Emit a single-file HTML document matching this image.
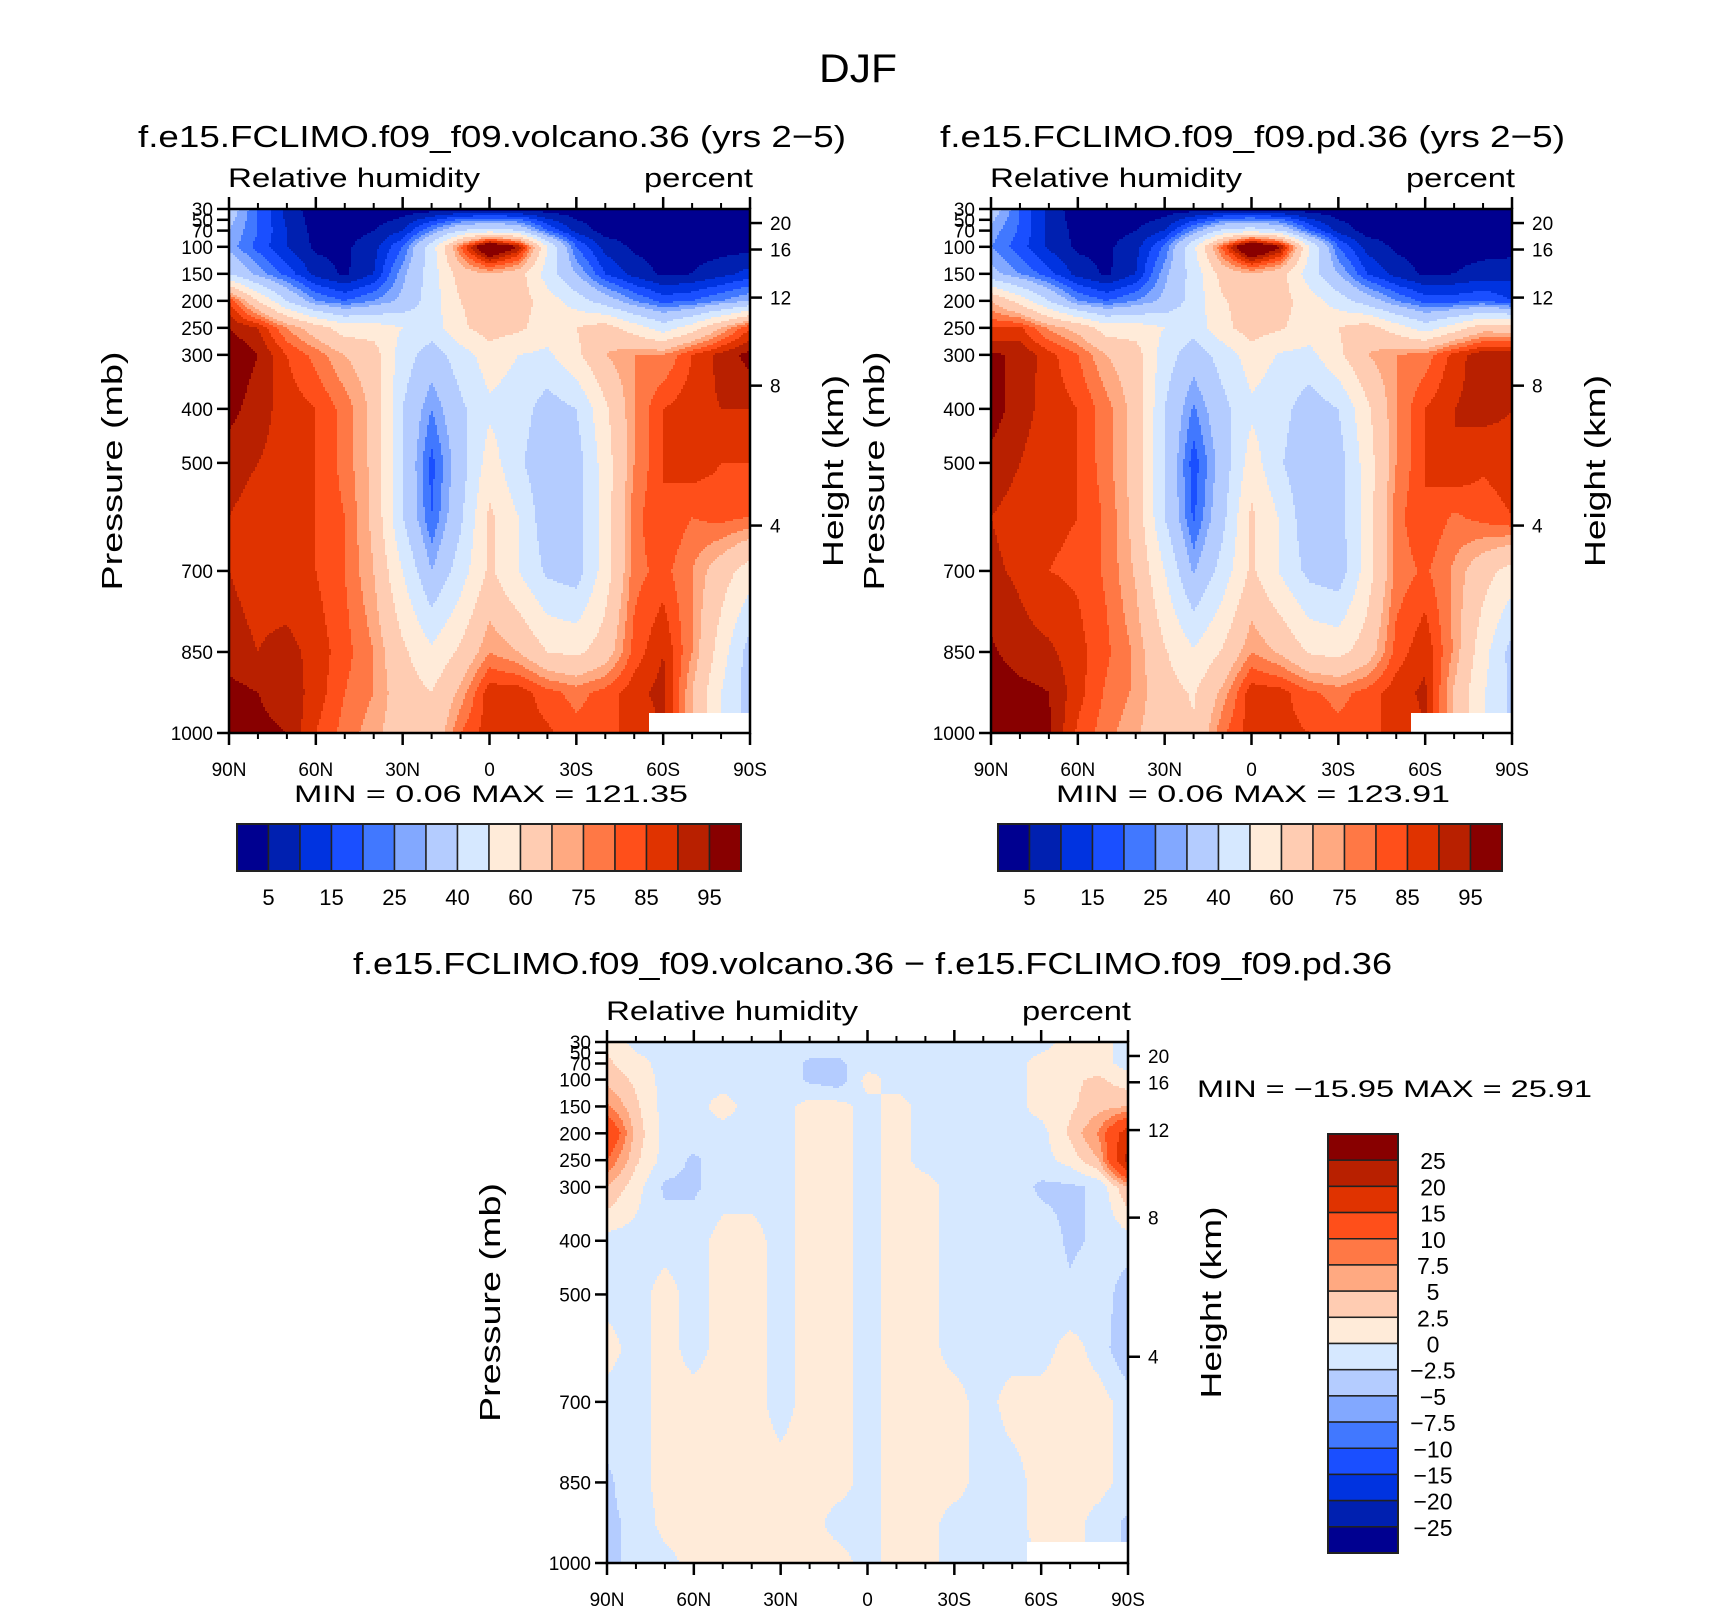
<!DOCTYPE html>
<html><head><meta charset="utf-8">
<style>
html,body{margin:0;padding:0;background:#fff;}
svg{display:block;font-family:"Liberation Sans",sans-serif;}
text{fill:#000;}
</style></head>
<body>
<svg id="fig" width="1710" height="1606" viewBox="0 0 1710 1606" xmlns="http://www.w3.org/2000/svg">
<rect x="0" y="0" width="1710" height="1606" fill="#fff"/>
<text x="858" y="82" font-size="40" text-anchor="middle" textLength="78" lengthAdjust="spacingAndGlyphs">DJF</text>
<text x="138" y="147" font-size="31" textLength="708" lengthAdjust="spacingAndGlyphs">f.e15.FCLIMO.f09_f09.volcano.36 (yrs 2−5)</text>
<text x="940" y="147" font-size="31" textLength="625" lengthAdjust="spacingAndGlyphs">f.e15.FCLIMO.f09_f09.pd.36 (yrs 2−5)</text>
<text x="353" y="974" font-size="31" textLength="1039" lengthAdjust="spacingAndGlyphs">f.e15.FCLIMO.f09_f09.volcano.36 − f.e15.FCLIMO.f09_f09.pd.36</text>
<g id="panels"></g>
</svg>
<script>
// ---- data ----
const lats = [90,80,70,60,50,40,30,20,10,0,-10,-20,-30,-40,-50,-60,-70,-80,-90];
const latTickLabels = ["90N","60N","30N","0","30S","60S","90S"];
const latTickValues = [90,60,30,0,-30,-60,-90];
const pressures = [30,70,100,150,200,250,300,400,500,600,700,850,925,1000];
const pressureTickValues = [30,50,70,100,150,200,250,300,400,500,700,850,1000];
const heightTickLabels = ["20","16","12","8","4"];
const heightTickPressures = [56,105,194,357,616];
const rhLevels = [5,10,15,20,25,30,40,50,60,70,75,80,85,90,95];
const rhTickLabels = ["5","15","25","40","60","75","85","95"];
const diffLevels = [-25,-20,-15,-10,-7.5,-5,-2.5,0,2.5,5,7.5,10,15,20,25];
const diffTickLabels = ["25","20","15","10","7.5","5","2.5","0","−2.5","−5","−7.5","−10","−15","−20","−25"];
const palette = ["#000090","#0020b0","#0033e0","#1a4fff","#4178ff","#82a8ff","#b4ccff","#d6e8ff","#ffebd9","#ffccb2","#ffa981","#ff7845","#ff4f1a","#e03300","#b82000","#880000"];

const volcanoRH = [
[35,20,8,2,1,1,2,2,2,2,2,2,2,2,2,2,2,2,2],
[30,20,10,3,3,5,10,25,40,45,40,20,8,3,3,3,3,3,3],
[28,18,10,4,4,8,20,45,80,110,95,50,20,8,4,3,3,3,3],
[40,28,18,8,4,10,28,45,65,70,65,45,30,15,8,4,5,8,12],
[85,60,40,25,20,25,32,45,60,65,65,55,45,35,25,18,20,25,30],
[95,90,75,65,55,55,50,45,58,65,62,55,60,65,55,45,55,70,85],
[100,95,85,78,70,65,45,35,45,55,50,48,58,70,75,75,85,92,97],
[97,92,88,85,78,68,40,25,38,48,45,35,40,58,75,85,88,90,90],
[92,90,88,85,78,68,40,18,35,55,42,32,35,55,75,85,88,85,85],
[90,88,87,85,80,68,40,20,38,62,50,33,35,55,78,85,80,82,80],
[90,88,86,85,80,70,50,30,45,62,50,38,35,55,78,82,75,65,55],
[92,90,92,88,82,75,62,52,62,75,70,60,58,65,82,90,75,55,35],
[97,95,93,88,80,75,65,60,72,88,88,82,78,82,88,92,70,50,35],
[97,96,95,85,78,72,65,62,80,88,88,86,82,84,86,null,null,null,null]
];
const pdRH = [
[35,20,8,2,1,1,2,2,2,2,2,2,2,2,2,2,2,2,2],
[28,19,9,3,3,5,10,26,42,46,40,20,8,3,3,3,3,3,3],
[25,17,9,4,4,8,21,48,82,112,96,50,20,8,4,3,3,3,3],
[33,25,17,8,4,10,28,44,64,70,64,45,30,15,8,4,5,7,8],
[70,56,40,25,20,25,32,44,59,65,64,55,45,35,25,18,18,20,15],
[85,86,74,67,55,55,50,44,57,65,61,55,60,65,55,45,55,66,65],
[96,94,87,80,70,65,45,34,44,55,49,47,58,70,75,77,87,94,94],
[98,92,88,85,77,67,40,24,37,48,44,34,40,58,75,85,90,92,90],
[93,90,87,85,77,67,40,17,34,55,41,31,35,55,75,85,90,86,88],
[90,88,86,85,79,67,40,19,37,62,49,32,35,55,78,85,79,82,85],
[91,89,85,84,79,69,50,29,44,62,49,37,34,55,77,81,74,64,56],
[96,92,91,87,81,74,61,51,61,75,69,59,57,65,82,89,74,54,36],
[99,97,95,87,79,74,64,59,72,88,87,81,78,82,88,91,69,51,38],
[99,98,96,84,77,71,64,61,79,88,87,85,82,84,86,null,null,null,null]
];
const diffRH = [
[2,-1,-1,-1,-1,-1,-1,-1,-1,-1,-1,-1,-1,-1,-1,-1,1,1,-1],
[3,1,-1,-1,-1,-1,-1,-3,-3,-1,-1,-1,-1,-1,-1,1,1,1,-1],
[4,2,-1,-1,-1,-1,-1,-3,-4,1,-1,-1,-1,-1,-1,1,2,3,1],
[8,3,-1,-1,1,-1,-1,1,1,-1,1,-1,-1,-1,-1,1,2,4,5],
[15,4,-1,-1,-1,-1,-1,1,1,-1,1,-1,-1,-1,-1,-1,3,8,18],
[10,3,-1,-3,-1,-1,-1,1,1,-1,1,-1,-1,-1,-1,-1,1,5,22],
[5,1,-3,-3,-1,-1,-1,1,1,-1,1,1,-1,-1,-1,-3,-3,-2,5],
[-1,-1,-1,-1,1,1,-1,1,1,-1,1,1,-1,-1,-1,-1,-3,-2,-1],
[-1,-1,1,-1,1,1,-1,1,1,-1,1,1,-1,-1,-1,-1,-2,-1,-4],
[1,-1,1,-1,1,1,-1,1,1,-1,1,1,-1,-1,-1,-1,1,-1,-5],
[-1,-1,1,1,1,1,-1,1,1,-1,1,1,1,-1,1,1,1,1,-1],
[-3,-1,1,1,1,1,1,1,1,-1,1,1,1,-1,-1,1,1,1,-1],
[-3,-2,1,1,1,1,1,1,-1,-1,1,1,-1,-1,-1,1,1,-1,-3],
[-3,-2,-1,1,1,1,1,1,1,-1,1,1,-1,-1,-1,null,null,null,null]
];

// ---- helpers ----
const NS = "http://www.w3.org/2000/svg";
const root = document.getElementById("panels");
function mk(tag, attrs, parent){ const e=document.createElementNS(NS,tag); for(const k in attrs) e.setAttribute(k,attrs[k]); (parent||root).appendChild(e); return e; }
function colorFor(v, levels){ let i=0; while(i<levels.length && v>=levels[i]) i++; return palette[i]; }

function sample(field, lf, p){
  let r=0; while(r<pressures.length-2 && p>pressures[r+1]) r++;
  let t=(p-pressures[r])/(pressures[r+1]-pressures[r]); t=Math.max(0,Math.min(1,t));
  lf=Math.max(0,Math.min(18,lf));
  let c=Math.min(Math.floor(lf),17); let s=lf-c;
  const nr = t<0.5?r:r+1, nc = s<0.5?c:c+1;
  if(field[nr][nc]===null) return null;
  const pts=[[r,c,(1-t)*(1-s)],[r,c+1,(1-t)*s],[r+1,c,t*(1-s)],[r+1,c+1,t*s]];
  let sum=0,w=0; for(const [a,b,ww] of pts){ const v=field[a][b]; if(v!==null){sum+=v*ww;w+=ww;} }
  return w>0?sum/w:null;
}

function panel(name, field, levels, x0, y0, w, h, minmax){
  const g = mk("g",{});
  
  
  const xOf = lat => x0 + (90-lat)/180*w;
  const yOf = p => y0 + (p-30)/970*h;
  const pOf = y => 30 + (y-y0)/h*970;
  const fg = mk("g",{},g);
  
  
  const step=2;
  for(let y=y0; y<y0+h; y+=step){
    const p = pOf(Math.min(y+step/2, y0+h));
    let runStart=x0, runCol=null;
    for(let x=x0; ; x+=step){
      const end = x>=x0+w;
      let col;
      if(end) col="__end";
      else { const v=sample(field, (x+step/2-x0)/w*18, p); col = v===null?"#ffffff":colorFor(v,levels); }
      if(col!==runCol){
        if(runCol!==null){
          const xe = end ? x0+w : x;
          const r=mk("rect",{x:runStart,y:y,width:xe-runStart+(end?0:0.6),height:Math.min(step+0.6,y0+h-y),fill:runCol},fg);
          
          
        }
        runStart=x; runCol=col;
      }
      if(end) break;
    }
  }
  const frame=mk("rect",{x:x0,y:y0,width:w,height:h,fill:"none",stroke:"#000","stroke-width":2.5},g);
  
  
  for(let lat=90; lat>=-90; lat-=10){
    const major = lat%30===0; const L = major?12:6; const x=xOf(lat);
    mk("line",{x1:x,y1:y0+h,x2:x,y2:y0+h+L,stroke:"#000","stroke-width":major?2.5:2},g);
    mk("line",{x1:x,y1:y0,x2:x,y2:y0-L,stroke:"#000","stroke-width":major?2.5:2},g);
  }
  latTickValues.forEach((lat,i)=>{
    const t=mk("text",{x:xOf(lat),y:y0+h+43,"font-size":19,"text-anchor":"middle"},g);
    t.textContent=latTickLabels[i];
    
    
  });
  pressureTickValues.forEach(p=>{
    const y=yOf(p);
    mk("line",{x1:x0,y1:y,x2:x0-12,y2:y,stroke:"#000","stroke-width":2.5},g);
    const t=mk("text",{x:x0-16,y:y+7,"font-size":19,"text-anchor":"end"},g);
    t.textContent=String(p);
    
    
  });
  heightTickPressures.forEach((p,i)=>{
    const y=yOf(p);
    mk("line",{x1:x0+w,y1:y,x2:x0+w+12,y2:y,stroke:"#000","stroke-width":2.5},g);
    const t=mk("text",{x:x0+w+20,y:y+7,"font-size":19},g);
    t.textContent=heightTickLabels[i];
    
    
  });
  const cy=y0+h/2;
  const yt=mk("text",{x:0,y:0,"font-size":29,"text-anchor":"middle",transform:`translate(${x0-107},${cy}) rotate(-90)`,textLength:239,lengthAdjust:"spacingAndGlyphs"},g);
  yt.textContent="Pressure (mb)";
  
  
  const ht=mk("text",{x:0,y:0,"font-size":29,"text-anchor":"middle",transform:`translate(${x0+w+93},${cy}) rotate(-90)`,textLength:192,lengthAdjust:"spacingAndGlyphs"},g);
  ht.textContent="Height (km)";
  
  
  const lt=mk("text",{x:x0-1,y:y0-22,"font-size":27,textLength:252,lengthAdjust:"spacingAndGlyphs"},g);
  lt.textContent="Relative humidity";
  
  
  const rt=mk("text",{x:x0+w+3,y:y0-22,"font-size":27,"text-anchor":"end",textLength:109,lengthAdjust:"spacingAndGlyphs"},g);
  rt.textContent="percent";
  
  
  if(minmax){
    const m=mk("text",{x:minmax[0],y:minmax[1],"font-size":24,textLength:minmax[3],lengthAdjust:"spacingAndGlyphs","xml:space":"preserve"},g);
    m.textContent=minmax[2];
    
    
  }
}

function hColorbar(name, x0, y0, w, h){
  const g=mk("g",{});
  
  
  const bw=w/16;
  palette.forEach((c,i)=>{
    const r=mk("rect",{x:x0+i*bw,y:y0,width:bw,height:h,fill:c,stroke:"#222","stroke-width":1.5},g);
    
    
  });
  mk("rect",{x:x0,y:y0,width:w,height:h,fill:"none",stroke:"#222","stroke-width":2},g);
  rhTickLabels.forEach((lab,i)=>{
    const t=mk("text",{x:x0+(2*i+1)*bw,y:y0+h+34,"font-size":22,"text-anchor":"middle"},g);
    t.textContent=lab;
    
    
  });
}
function vColorbar(name, x0, y0, w, h){
  const g=mk("g",{});
  
  
  const bh=h/16;
  palette.slice().reverse().forEach((c,i)=>{
    const r=mk("rect",{x:x0,y:y0+i*bh,width:w,height:bh,fill:c,stroke:"#222","stroke-width":1.5},g);
    
    
  });
  mk("rect",{x:x0,y:y0,width:w,height:h,fill:"none",stroke:"#222","stroke-width":2},g);
  diffTickLabels.forEach((lab,i)=>{
    const t=mk("text",{x:1433,y:y0+(i+1)*bh+9,"font-size":23,"text-anchor":"middle"},g);
    t.textContent=lab;
    
    
  });
}

panel("volcano-panel", volcanoRH, rhLevels, 229, 209, 521, 524, [294,802,"MIN =     0.06   MAX = 121.35",394]);
panel("pd-panel", pdRH, rhLevels, 991, 209, 521, 524, [1056,802,"MIN =     0.06   MAX = 123.91",394]);
panel("diff-panel", diffRH, diffLevels, 607, 1042, 521, 521, [1197,1097,"MIN = −15.95   MAX =   25.91",395]);
hColorbar("volcano-colorbar", 237, 824, 504, 47);
hColorbar("pd-colorbar", 998, 824, 504, 47);
vColorbar("diff-colorbar", 1328, 1134, 70, 419);
</script>
</body></html>
